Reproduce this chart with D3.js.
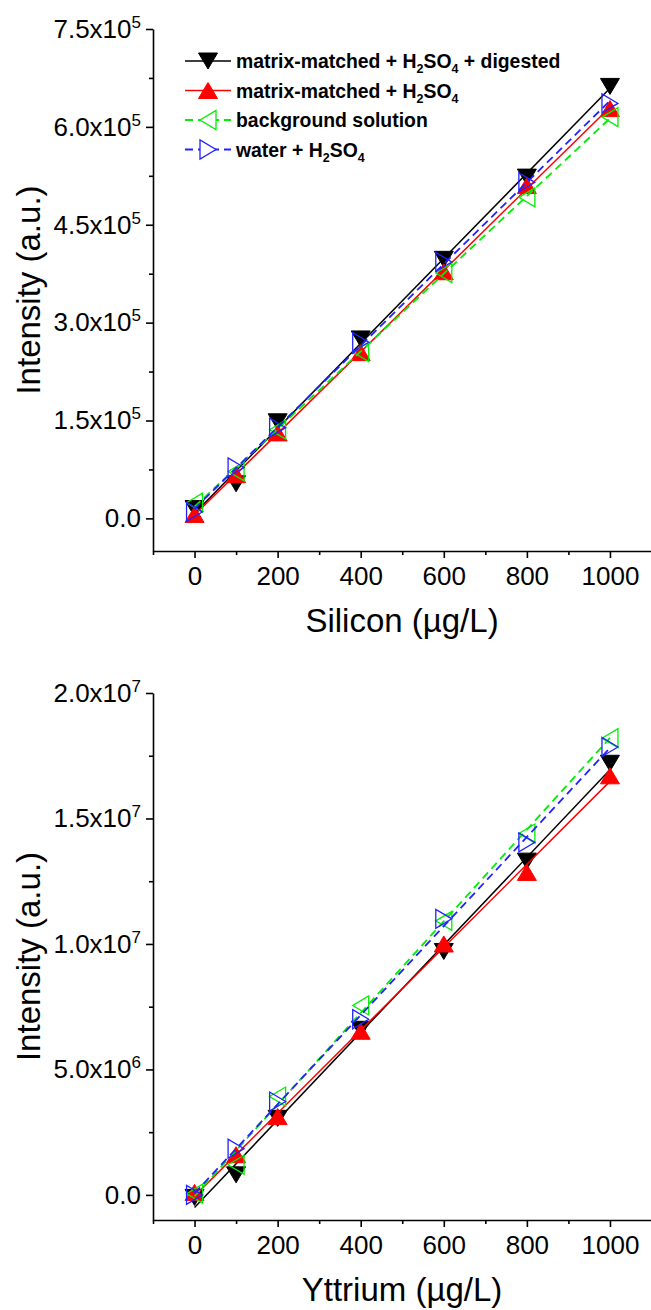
<!DOCTYPE html>
<html><head><meta charset="utf-8">
<script src="https://cdn.jsdelivr.net/npm/d3@7"></script>
<style>
body{margin:0;background:#fff}
svg{display:block}
text{font-family:"Liberation Sans",Arial,Helvetica,sans-serif;fill:#000}
</style></head><body>
<script>
// ---------------- data ----------------
const concentrations = [0, 100, 200, 400, 600, 800, 1000];

const seriesKeys = ["digested", "matrix", "background", "water"];
const seriesColors = ["#000000", "#ff0000", "#00ee00", "#2222ff"];
const seriesDash = [null, null, "8,5", "8,5"];
const seriesSymbols = ["down", "up", "left", "right"];
const seriesFilled = [true, true, false, false];

// Silicon intensities (a.u.)
const siDigested   = [1.5e4, 5.3e4, 1.48e5, 2.75e5, 3.97e5, 5.23e5, 6.62e5];
const siMatrix     = [0.6e4, 6.7e4, 1.31e5, 2.54e5, 3.78e5, 5.10e5, 6.28e5];
const siBackground = [2.4e4, 7.2e4, 1.36e5, 2.55e5, 3.76e5, 4.92e5, 6.15e5];
const siWater      = [1.0e4, 7.8e4, 1.39e5, 2.70e5, 3.93e5, 5.15e5, 6.36e5];

// Yttrium intensities (a.u.)
const yDigested   = [-0.1e6, 0.8e6, 3.05e6, 6.6e6, 9.7e6, 13.3e6, 17.2e6];
const yMatrix     = [0.1e6, 1.6e6, 3.12e6, 6.52e6, 10.0e6, 12.85e6, 16.7e6];
const yBackground = [0.05e6, 1.2e6, 3.92e6, 7.55e6, 10.92e6, 14.4e6, 18.2e6];
const yWater      = [0.0e6, 1.84e6, 3.72e6, 7.0e6, 11.0e6, 14.05e6, 17.85e6];

// axis ticks
const xMajorTicks = [0, 200, 400, 600, 800, 1000];
const xMinorTicks = [-100, 100, 300, 500, 700, 900, 1100];
const xTickLabels = ["0", "200", "400", "600", "800", "1000"];

const siMajorTicks = [0, 1.5e5, 3.0e5, 4.5e5, 6.0e5, 7.5e5];
const siMinorTicks = [0.75e5, 2.25e5, 3.75e5, 5.25e5, 6.75e5];
const siTickMant   = ["0.0", "1.5x10", "3.0x10", "4.5x10", "6.0x10", "7.5x10"];
const siTickExp    = ["", "5", "5", "5", "5", "5"];

const yMajorTicks = [0, 5e6, 1e7, 1.5e7, 2e7];
const yMinorTicks = [2.5e6, 7.5e6, 1.25e7, 1.75e7];
const yTickMant   = ["0.0", "5.0x10", "1.0x10", "1.5x10", "2.0x10"];
const yTickExp    = ["", "6", "7", "7", "7"];

// legend labels: [text, subscript] pieces
const legendLabels = [
  [["matrix-matched + H",""],["2","sub"],["SO",""],["4","sub"],[" + digested",""]],
  [["matrix-matched + H",""],["2","sub"],["SO",""],["4","sub"]],
  [["background solution",""]],
  [["water + H",""],["2","sub"],["SO",""],["4","sub"]]
];

// ---------------- drawing ----------------
const W = 651, H = 1310;
const svg = d3.select("body").append("svg").attr("width", W).attr("height", H);

const x = d3.scaleLinear().domain([-100, 1100]).range([153, 651.5]);

function symbolPath(type, w, h) {
  const a = w / 2, b = h / 2;
  if (type === "down") return `M${-a},${-b}L${a},${-b}L0,${b}Z`;
  if (type === "up") return `M${-a},${b}L${a},${b}L0,${-b}Z`;
  if (type === "left") return `M${b},${-a}L${b},${a}L${-b},0Z`;
  return `M${-b},${-a}L${-b},${a}L${b},0Z`;
}

function fit(xs, ys) {
  const mx = d3.mean(xs), my = d3.mean(ys);
  let sxy = 0, sxx = 0;
  xs.forEach((v, i) => { sxy += (v - mx) * (ys[i] - my); sxx += (v - mx) ** 2; });
  const s = sxy / sxx;
  return { slope: s, intercept: my - s * mx };
}

function panel(cfg) {
  const y = d3.scaleLinear().domain(cfg.domain).range([cfg.bottom, cfg.top]);
  const g = svg.append("g");

  // x axis
  const xa = g.append("g").attr("transform", `translate(0,${cfg.bottom})`)
    .call(d3.axisBottom(x).tickValues(xMajorTicks).tickSize(7).tickSizeOuter(0).tickPadding(8.5)
      .tickFormat((d, i) => xTickLabels[i]));
  xa.append("g").call(d3.axisBottom(x).tickValues(xMinorTicks).tickSize(4).tickFormat(""))
    .select(".domain").remove();
  xa.selectAll("text").attr("font-size", 26).attr("font-family", '"Liberation Sans",Arial,sans-serif').attr("fill", "#000");
  xa.selectAll("path,line").attr("stroke", "#000").attr("stroke-width", 1.6);

  // y axis
  const ya = g.append("g").attr("transform", `translate(153,0)`)
    .call(d3.axisLeft(y).tickValues(cfg.majors).tickSize(7).tickSizeOuter(0).tickPadding(5).tickFormat(""));
  ya.append("g").call(d3.axisLeft(y).tickValues(cfg.minors).tickSize(4).tickFormat(""))
    .select(".domain").remove();
  ya.selectAll("path,line").attr("stroke", "#000").attr("stroke-width", 1.6);
  ya.selectAll(".tick text").each(function (d) {
    const i = cfg.majors.indexOf(d);
    if (i < 0) return;
    const t = d3.select(this).attr("font-size", 26).attr("fill", "#000")
      .attr("font-family", '"Liberation Sans",Arial,sans-serif');
    t.text(null);
    t.append("tspan").text(cfg.mant[i]);
    if (cfg.exp[i]) t.append("tspan").attr("font-size", 17).attr("dy", -10).text(cfg.exp[i]);
  });

  // axis titles
  g.append("text").attr("x", 402).attr("y", cfg.bottom + 81).attr("text-anchor", "middle")
    .attr("font-size", 33).text(cfg.xTitle);
  g.append("text").attr("transform", `translate(40,${(cfg.top + cfg.bottom) / 2}) rotate(-90)`)
    .attr("text-anchor", "middle").attr("font-size", 33).text("Intensity (a.u.)");

  // series
  cfg.series.forEach((vals, k) => {
    const f = fit(concentrations, vals);
    const fx = d3.extent(concentrations);
    g.append("path")
      .attr("d", d3.line().x(d => x(d)).y(d => y(f.intercept + f.slope * d))(fx))
      .attr("fill", "none").attr("stroke", seriesColors[k]).attr("stroke-width", k < 2 ? 1.5 : 1.8)
      .attr("stroke-dasharray", seriesDash[k]);
    g.selectAll(null).data(concentrations).enter().append("path")
      .attr("transform", (d, i) => `translate(${x(d)},${y(vals[i])})`)
      .attr("d", symbolPath(seriesSymbols[k], 19, 16))
      .attr("fill", seriesFilled[k] ? seriesColors[k] : "none")
      .attr("stroke", seriesColors[k]).attr("stroke-width", seriesFilled[k] ? 1 : 1.3);
  });
}

panel({
  top: 29, bottom: 551, domain: [-5e4, 7.5e5],
  majors: siMajorTicks, minors: siMinorTicks, mant: siTickMant, exp: siTickExp,
  xTitle: "Silicon (\u00b5g/L)",
  series: [siDigested, siMatrix, siBackground, siWater]
});
panel({
  top: 693, bottom: 1220, domain: [-1e6, 2e7],
  majors: yMajorTicks, minors: yMinorTicks, mant: yTickMant, exp: yTickExp,
  xTitle: "Yttrium (\u00b5g/L)",
  series: [yDigested, yMatrix, yBackground, yWater]
});

// legend
const leg = svg.append("g");
legendLabels.forEach((pieces, k) => {
  const ly = 61 + k * 29.5;
  leg.append("line").attr("x1", 185).attr("x2", 231).attr("y1", ly).attr("y2", ly)
    .attr("stroke", seriesColors[k]).attr("stroke-width", k < 2 ? 1.5 : 1.8)
    .attr("stroke-dasharray", seriesDash[k]);
  leg.append("path").attr("transform", `translate(208,${ly})`)
    .attr("d", symbolPath(seriesSymbols[k], 19, 16))
    .attr("fill", seriesFilled[k] ? seriesColors[k] : "#fff")
    .attr("stroke", seriesColors[k]).attr("stroke-width", seriesFilled[k] ? 1 : 1.3);
  const t = leg.append("text").attr("x", 236).attr("y", ly + 7)
    .attr("font-size", 19.4).attr("font-weight", "bold");
  let shift = 0;
  pieces.forEach(([s, kind]) => {
    const ts = t.append("tspan").text(s);
    if (kind === "sub") { ts.attr("font-size", 12.5).attr("dy", 5 - shift); shift = 5; }
    else { ts.attr("dy", -shift); shift = 0; }
  });
});
</script>
</body></html>
